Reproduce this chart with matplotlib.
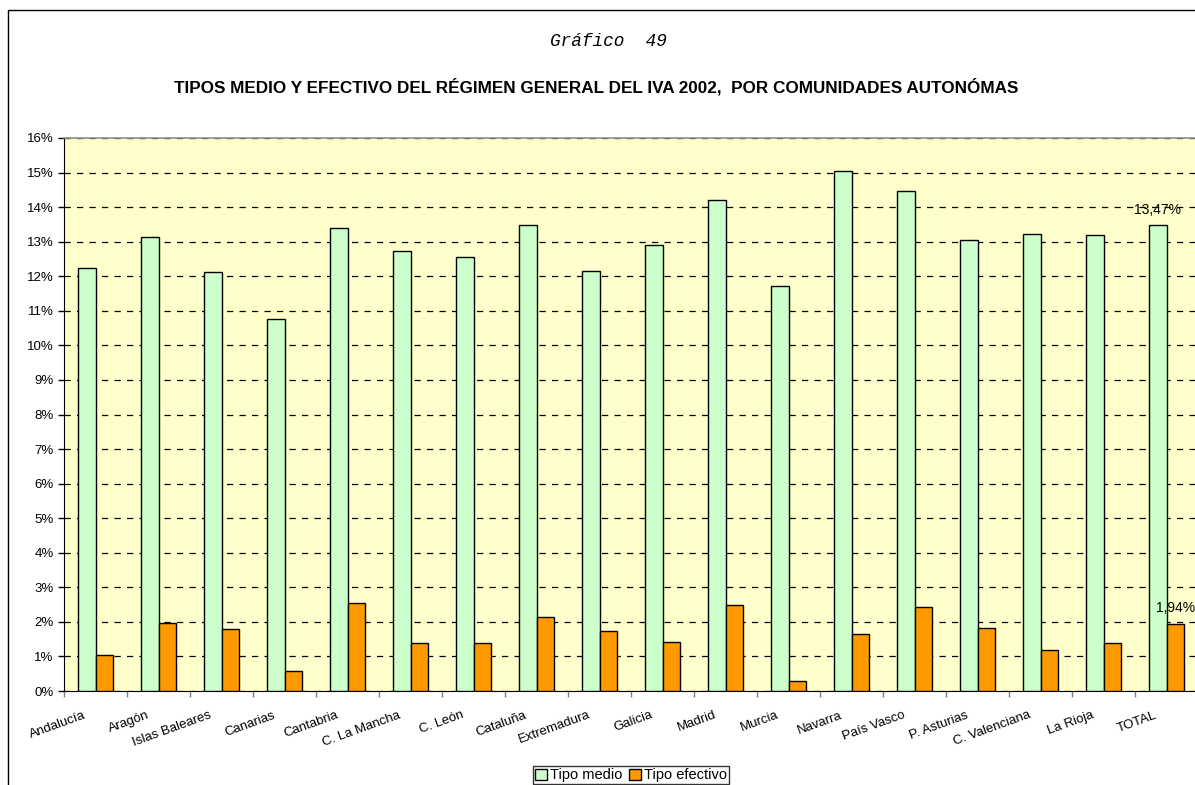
import matplotlib
matplotlib.use('Agg')
import matplotlib.pyplot as plt
import matplotlib.transforms as mtransforms
from matplotlib.patches import Rectangle
from matplotlib.ticker import FixedLocator, FuncFormatter
import numpy as np

plt.rcParams['font.family'] = ['Liberation Sans', 'DejaVu Sans']

# data (percent)
comunidades = ['Andalucía', 'Aragón', 'Islas Baleares', 'Canarias', 'Cantabria',
               'C. La Mancha', 'C. León', 'Cataluña', 'Extremadura', 'Galicia',
               'Madrid', 'Murcia', 'Navarra', 'País Vasco', 'P. Asturias',
               'C. Valenciana', 'La Rioja', 'TOTAL']
tipo_medio = [12.24, 13.14, 12.12, 10.76, 13.40, 12.72, 12.57, 13.49, 12.15, 12.91,
              14.21, 11.73, 15.05, 14.48, 13.05, 13.23, 13.19, 13.47]
tipo_efectivo = [1.04, 1.97, 1.80, 0.57, 2.55, 1.40, 1.39, 2.14, 1.74, 1.41,
                 2.49, 0.29, 1.64, 2.42, 1.82, 1.19, 1.40, 1.94]
etiquetas = {17: ('13,47%', '1,94%')}

W, H = 1195, 785
fig = plt.figure(figsize=(W / 100, H / 100), dpi=100)
fig.patch.set_facecolor('white')

# outer chart border (bottom/right fall outside the picture)
fig.patches.append(Rectangle((8 / W, -0.1), 1.2, 1 - 10 / H + 0.1,
                             transform=fig.transFigure, fill=False,
                             edgecolor='black', lw=1.0))

ax = fig.add_axes([64 / W, 1 - 691 / H, 1134 / W, 553 / H])
ax.set_facecolor('#FFFFCC')

x = np.arange(len(comunidades))
bw = 0.2857
ax.bar(x - bw / 2, tipo_medio, width=bw, color='#CCFFCC', edgecolor='black',
       lw=1.0, label='Tipo medio', zorder=3)
ax.bar(x + bw / 2, tipo_efectivo, width=bw, color='#FF9900', edgecolor='black',
       lw=1.0, label='Tipo efectivo', zorder=3)

for i, (t1, t2) in etiquetas.items():
    ax.text(x[i] - bw / 2, tipo_medio[i] + 0.25, t1, ha='center', va='bottom',
            fontsize=10, zorder=4)
    ax.text(x[i] + bw / 2, tipo_efectivo[i] + 0.25, t2, ha='center', va='bottom',
            fontsize=10, zorder=4)

ax.set_xlim(-0.5, len(comunidades) - 0.5)
ax.set_ylim(0, 16)
ax.yaxis.set_major_locator(FixedLocator(np.arange(0, 17, 1)))
ax.yaxis.set_major_formatter(FuncFormatter(lambda v, p: f'{int(round(v))}%'))
ax.yaxis.grid(True, linestyle=(0, (5, 5)), color='black', lw=0.9, zorder=1)
ax.set_axisbelow(True)

# boundary ticks plus centered labels
ax.xaxis.set_major_locator(FixedLocator(np.arange(len(comunidades) + 1) - 0.5))
ax.xaxis.set_major_formatter(FuncFormatter(lambda v, p: ''))
ax.xaxis.set_minor_locator(FixedLocator(x))
ax.set_xticklabels(comunidades, minor=True, rotation=20, ha='right', fontsize=9.5)
ax.tick_params(axis='x', which='major', length=4, color='#808080', width=1)
ax.tick_params(axis='x', which='minor', length=0, pad=13)
ax.tick_params(axis='y', length=4, width=1, pad=3.5, labelsize=9.5)
shift = mtransforms.ScaledTranslation(-8 / 100, 0, fig.dpi_scale_trans)
for lab in ax.xaxis.get_minorticklabels():
    lab.set_transform(lab.get_transform() + shift)

ax.spines['left'].set_color('black')
ax.spines['bottom'].set_color('black')
ax.spines['top'].set_color('#909090')
ax.spines['top'].set_linewidth(1.2)
ax.spines['right'].set_visible(False)

fig.text(608 / W, 1 - 42 / H, 'Gráfico  49', ha='center', va='center',
         family='Liberation Mono', style='italic', fontsize=12.8)
fig.text(596 / W, 1 - 87 / H,
         'TIPOS MEDIO Y EFECTIVO DEL RÉGIMEN GENERAL DEL IVA 2002,  POR COMUNIDADES AUTONÓMAS',
         ha='center', va='center', fontsize=12.3, fontweight='bold')

leg = fig.legend(loc='upper center', bbox_to_anchor=(631 / W, 1 - 766 / H), ncol=2,
                 frameon=True, fancybox=False, edgecolor='black', fontsize=10.5,
                 handlelength=0.8, handleheight=0.8, handletextpad=0.2,
                 columnspacing=0.5, borderpad=0.15, borderaxespad=0)
leg.get_frame().set_linewidth(1.0)

fig.savefig('out.png', dpi=100)
